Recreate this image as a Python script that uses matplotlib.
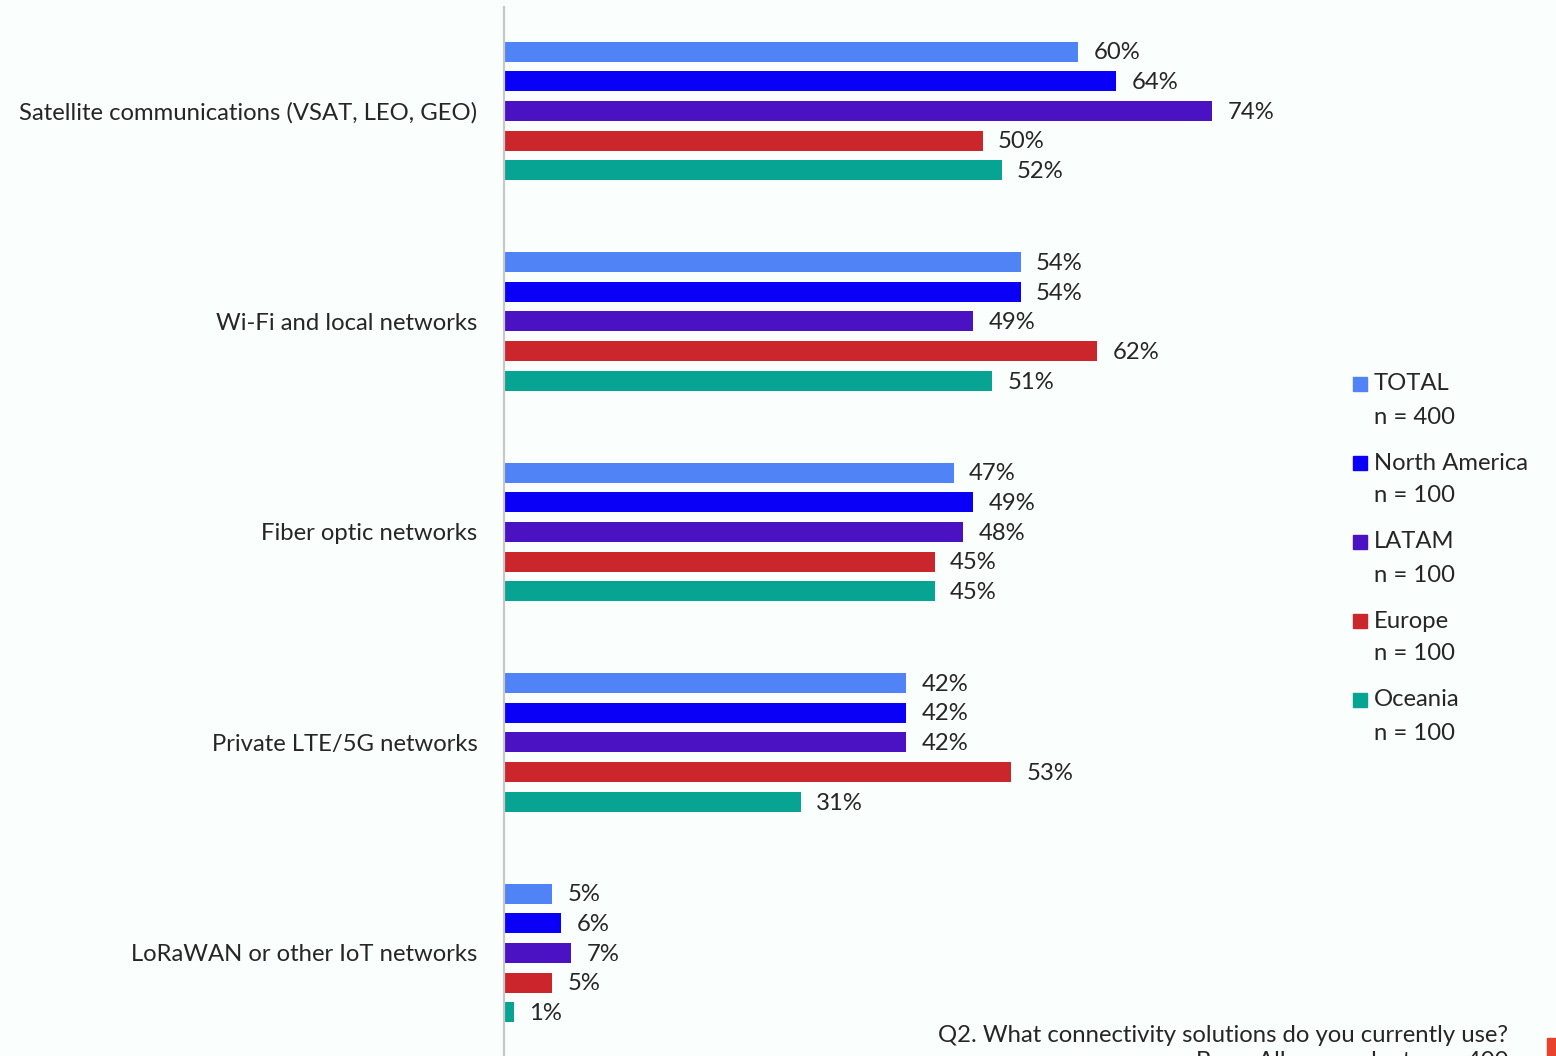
import matplotlib
matplotlib.use("Agg")
import matplotlib.pyplot as plt
from matplotlib.patches import Rectangle
import numpy as np

categories = [
    "Satellite communications (VSAT, LEO, GEO)",
    "Wi-Fi and local networks",
    "Fiber optic networks",
    "Private LTE/5G networks",
    "LoRaWAN or other IoT networks",
]
series = ["TOTAL", "North America", "LATAM", "Europe", "Oceania"]
sample_sizes = [400, 100, 100, 100, 100]
total = [60, 54, 47, 42, 5]
north_america = [64, 54, 49, 42, 6]
latam = [74, 49, 48, 42, 7]
europe = [50, 62, 45, 53, 5]
oceania = [52, 51, 45, 31, 1]
values = [total, north_america, latam, europe, oceania]

COLORS = ["#5083F5", "#0A00F8", "#4A12C2", "#CC262D", "#08A493"]
BG = "#FAFEFC"
TEXT = "#262626"
FONT = ["Lato", "DejaVu Sans"]
FS = 17.2

plt.rcParams["font.family"] = FONT

W, H = 1556, 1056
fig = plt.figure(figsize=(W / 100, H / 100), dpi=100, facecolor=BG)

# axes: left spine at x=504px, 100% spans 957px; group centres 210.5px apart
ax = fig.add_axes([504 / W, 0, 957 / W, 1049 / H])
ax.set_facecolor(BG)
ax.set_xlim(0, 100)
ax.set_ylim(4.49, -0.494)

bar_h = 0.095
step = 0.141
y = np.arange(len(categories))
for i, (name, vals, col) in enumerate(zip(series, values, COLORS)):
    ypos = y + (i - 2) * step
    ax.barh(ypos, vals, height=bar_h, color=col, edgecolor="none")
    for yy, v in zip(ypos, vals):
        ax.text(v + 1.6, yy + 0.006, f"{v}%", va="center", ha="left",
                fontsize=FS, color=TEXT)

ax.set_yticks(y)
ax.set_yticklabels(categories, fontsize=FS, color=TEXT)
ax.tick_params(axis="y", length=0, pad=19)
ax.set_xticks([])
for s in ["top", "right", "bottom"]:
    ax.spines[s].set_visible(False)
ax.spines["left"].set_color("#C8C8C8")
ax.spines["left"].set_linewidth(1.6)

# legend, drawn by hand: square + name, sample size below
for i, (name, n, col) in enumerate(zip(series, sample_sizes, COLORS)):
    ytop = 384 + i * 79
    fig.patches.append(Rectangle((1353 / W, 1 - (ytop + 7) / H), 14 / W, 14 / H,
                                 transform=fig.transFigure, color=col))
    fig.text(1374 / W, 1 - ytop / H, name, va="center", ha="left",
             fontsize=FS, color=TEXT)
    fig.text(1374 / W, 1 - (ytop + 33) / H, f"n = {n}", va="center", ha="left",
             fontsize=FS, color=TEXT)

# footnote (second line runs off the bottom edge)
fig.text(1508 / W, 1 - 1035 / H, "Q2. What connectivity solutions do you currently use?",
         ha="right", va="center", fontsize=FS, color=TEXT)
fig.text(1508 / W, 1 - 1051 / H, "Base: All respondents n = 400",
         ha="right", va="top", fontsize=FS, color=TEXT)
fig.patches.append(Rectangle((1547 / W, 0), 9 / W, 18 / H,
                             transform=fig.transFigure, color="#E8412C"))

fig.savefig("out.png", dpi=100, facecolor=BG)
